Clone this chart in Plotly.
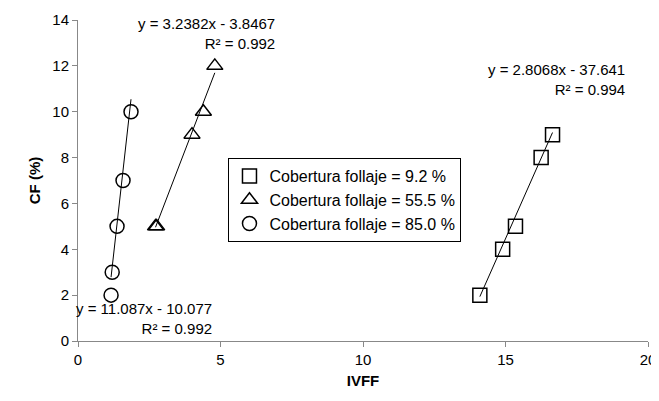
import plotly.graph_objects as go

sq_x = [14.1, 14.9, 15.35, 16.25, 16.65]
sq_y = [2, 4, 5, 8, 9]
tr_x = [2.72, 2.76, 4.0, 4.4, 4.8]
tr_y = [5, 5, 9, 10, 12]
ci_x = [1.16, 1.2, 1.37, 1.58, 1.86]
ci_y = [2, 3, 5, 7, 10]
fits = {"sq": (2.8068, -37.641), "tr": (3.2382, -3.8467), "ci": (11.087, -10.077)}
names = ["Cobertura follaje = 9.2 %", "Cobertura follaje = 55.5 %", "Cobertura follaje = 85.0 %"]

fig = go.Figure()
for key, xs, ys, sym, nm in [("sq", sq_x, sq_y, "square-open", names[0]),
                             ("tr", tr_x, tr_y, "triangle-up-open", names[1]),
                             ("ci", ci_x, ci_y, "circle-open", names[2])]:
    a, b = fits[key]
    lx = [min(xs), max(xs)]
    fig.add_trace(go.Scatter(x=lx, y=[a * v + b for v in lx], mode="lines",
                             line=dict(color="black", width=1), showlegend=False))
    fig.add_trace(go.Scatter(x=xs, y=ys, mode="markers", name=nm,
                             marker=dict(symbol=sym, size=14, color="black", line=dict(width=1.5))))

ann = [(16.8, 11.4, "y = 2.8068x - 37.641<br>R² = 0.994"),
       (4.5, 13.4, "y = 3.2382x - 3.8467<br>R² = 0.992"),
       (2.3, 1.0, "y = 11.087x - 10.077<br>R² = 0.992")]
for x, y, t in ann:
    fig.add_annotation(x=x, y=y, text=t, showarrow=False, align="right",
                       font=dict(size=15, color="black"))

ax = dict(showgrid=False, zeroline=False, showline=True, linecolor="#888", ticks="outside",
          tickcolor="#888", tickfont=dict(size=15, color="black"), mirror=False, automargin=False)
fig.update_layout(
    width=659, height=401, margin=dict(l=70, r=19, t=12, b=68, autoexpand=False),
    paper_bgcolor="white", plot_bgcolor="white",
    font=dict(family="Liberation Sans", color="black"),
    xaxis=dict(range=[0, 20], dtick=5, title=dict(text="<b>IVFF</b>", font=dict(size=15), standoff=8), **ax),
    yaxis=dict(range=[0, 14], dtick=2, title=dict(text="<b>CF (%)</b>", font=dict(size=15), standoff=8), **ax),
    legend=dict(x=0.264, y=0.57, xanchor="left", yanchor="top", bordercolor="black", borderwidth=1,
                font=dict(size=16), bgcolor="white", tracegroupgap=2),
)
fig.write_html("out.html")
